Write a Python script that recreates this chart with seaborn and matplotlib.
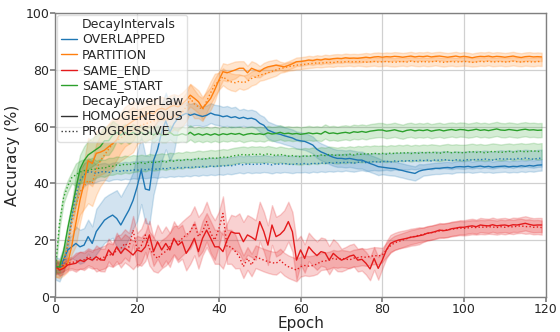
import numpy as np
import pandas as pd
import matplotlib
matplotlib.use("Agg")
import matplotlib.pyplot as plt
import seaborn as sns

epochs = list(range(120))
intervals = ["OVERLAPPED", "PARTITION", "SAME_END", "SAME_START"]
powerlaws = ["HOMOGENEOUS", "PROGRESSIVE"]

ov_h = [10, 9.4, 13, 16.5, 17.6, 18.8, 17.6, 18.2, 21.2, 18.8,
        23, 25, 27, 28, 28.8, 27.6, 25.3, 28, 30.6, 34,
        38.8, 44.7, 38, 37.6, 48, 52, 58, 62, 58, 61,
        63, 64, 64.7, 64, 64.5, 64, 63.6, 64, 64.8, 64.2,
        64, 63.5, 63.8, 63.2, 63.5, 62.9, 63.3, 62.8, 63, 62.5,
        61.2, 60.5, 58.8, 58.2, 57.6, 57.3, 56.8, 56.4, 56, 55.3,
        55, 54.8, 54.2, 53.5, 52, 51.1, 50.5, 49.8, 49.2, 48.8,
        48.8, 48.6, 48.8, 48.5, 48.2, 48.2, 47.6, 47, 46.5, 45.9,
        45.7, 45.5, 45.3, 45.2, 44.8, 44.5, 44.1, 43.8, 43.5, 44.3,
        44.7, 44.9, 45.1, 45.3, 45.3, 45.5, 45.6, 45.4, 45.8, 45.9,
        45.8, 46, 45.7, 45.9, 46.1, 45.8, 46, 45.7, 45.9, 46,
        46.1, 45.8, 46, 45.9, 46.2, 46, 46.3, 46.1, 46.4, 46.5]
ov_p = [10, 10, 11, 18, 28, 36, 41, 43, 44, 44,
        43.5, 44, 44.2, 43.8, 44.3, 44.5, 44.2, 44.6, 44.4, 44.8,
        44.6, 45, 44.8, 45, 45.2, 44.9, 45.3, 45.1, 45.5, 45.3,
        45.6, 45.4, 45.7, 45.5, 45.9, 45.6, 46, 45.8, 46.1, 45.9,
        46.2, 46, 46.4, 46.2, 46.5, 46.8, 46.5, 46.9, 46.6, 46.8,
        46.7, 47, 46.8, 46.5, 46.9, 46.7, 47, 46.8, 46.6, 46.9,
        46.8, 47, 46.7, 47.1, 46.9, 47.2, 47, 47.3, 47.1, 47.4,
        47.2, 47.5, 47.3, 47.1, 47.4, 47.6, 47.3, 47.5, 47.7, 47.5,
        47.6, 47.8, 47.5, 47.9, 47.7, 48, 47.8, 48.1, 47.9, 48.2,
        48, 48.2, 47.9, 48.3, 48.1, 48.4, 48.2, 48, 48.3, 48.2,
        48.1, 48.4, 48.2, 48.5, 48.3, 48.6, 48.4, 48.2, 48.5, 48.7,
        48.5, 48.7, 48.4, 48.8, 48.6, 48.9, 48.7, 48.5, 48.8, 48.9]
pa_h = [10, 9.5, 10.5, 11.8, 18, 26, 34, 40, 48, 47,
        50.6, 51, 51.7, 52.9, 54, 55.3, 58, 60, 61, 62,
        63, 63.5, 64, 65, 64.5, 66, 66.5, 66, 67, 67.5,
        67, 68, 69.4, 71.1, 70, 68.8, 66.5, 68.2, 70, 73,
        76.4, 79.4, 79, 79.5, 80, 80.6, 80.6, 79, 80.6, 80,
        79.4, 80.5, 81.1, 81.4, 81.7, 81.4, 81.1, 81.6, 82.2, 82.9,
        83, 83.2, 83.5, 83.3, 83.7, 83.5, 83.9, 83.7, 84, 84.1,
        84, 84.3, 84.1, 84.2, 84.1, 84.3, 84.5, 84.3, 84.6, 84.7,
        84.5, 84.7, 84.6, 84.8, 84.7, 84.5, 84.7, 84.9, 84.6, 84.8,
        84.7, 84.9, 84.6, 84.8, 84.9, 84.7, 84.5, 84.7, 84.9, 84.6,
        84.8, 84.6, 84.3, 84.6, 84.8, 84.7, 84.9, 84.6, 84.8, 84.7,
        84.5, 84.7, 84.9, 84.6, 84.4, 84.7, 84.8, 84.6, 84.7, 84.6]
pa_p = [10, 10, 12, 18, 26, 32, 37, 39, 41, 40,
        45, 48, 50, 52, 54, 55, 56, 57, 58, 59,
        60, 60.5, 61, 61.5, 62, 62.5, 63, 62.5, 63, 64,
        63.5, 65, 67, 70, 68, 67, 66, 69, 72, 74.7,
        76, 77.6, 76.5, 75.8, 75.5, 76, 75.5, 76, 77, 77.5,
        78.2, 78.5, 79, 79.5, 80, 80.5, 80.8, 81.2, 81.4, 81.7,
        81.8, 82, 82.2, 82.3, 82.5, 82.4, 82.6, 82.7, 82.6, 82.9,
        82.8, 82.9, 83, 82.8, 83, 82.9, 82.7, 82.9, 83, 82.8,
        82.9, 83, 82.8, 82.7, 82.9, 83, 82.8, 83.1, 82.9, 82.8,
        83, 82.8, 82.9, 83.1, 82.9, 82.7, 82.9, 83, 82.8, 82.9,
        83, 82.9, 82.7, 82.8, 83, 82.9, 83.1, 82.8, 82.9, 83,
        82.8, 82.9, 83.1, 82.9, 82.8, 83, 82.9, 82.8, 83, 82.9]
se_h = [11, 9.4, 10, 11.2, 11.5, 11.8, 12.9, 12.4, 13.5, 12.9,
        14.1, 13, 12.9, 16.5, 14.7, 17.6, 15.3, 17.1, 16, 14.7,
        16.5, 15.9, 17.6, 21.8, 15.9, 19.4, 16.5, 18.8, 16.5, 20.6,
        18.2, 19.4, 15.3, 17.6, 20.6, 15.9, 20.6, 23.5, 20.6, 17.6,
        17.6, 15.9, 20, 22.9, 22.4, 22.4, 19.4, 21.8, 21, 20,
        26.5, 23, 18.2, 25.3, 21.2, 22, 23.5, 26.5, 22.9, 12.9,
        16.5, 13.5, 17.6, 15.9, 14.5, 15.9, 15.5, 12.9, 15.3, 14,
        12.9, 13.5, 14.3, 14.7, 12.9, 13.2, 11.8, 9.8, 13.5, 10,
        12.9, 16.5, 18.8, 19.5, 20, 20.3, 20.6, 21, 21.2, 21.5,
        21.8, 22.4, 22.6, 23, 23.5, 23.3, 23.5, 24, 24.2, 24.5,
        24.5, 24.8, 25, 24.7, 25.3, 25.1, 25, 25.4, 25, 25.2,
        25.3, 25, 25.4, 25.3, 25.6, 25.9, 25.5, 25.2, 25.3, 25.3]
se_p = [10, 10.5, 11, 11.8, 12, 12.5, 12.8, 13, 14.1, 13.5,
        12.9, 13.5, 14, 15, 14.5, 16.5, 17, 18.8, 17.5, 23.5,
        16.5, 18, 21.8, 17, 15, 13.5, 15, 16, 17.6, 20,
        19, 20.5, 21.8, 23, 25.9, 21.2, 23, 26.5, 22.4, 20,
        24, 29.4, 17.6, 17.6, 16, 14.1, 10.6, 13.5, 11.2, 14.1,
        13.5, 12.9, 12.4, 12, 11.8, 12.9, 11.5, 10.6, 10, 9.4,
        10.6, 11, 10.8, 11, 11.5, 12.4, 12.6, 12.9, 13.5, 13.2,
        13.5, 13.3, 13, 13.6, 13.8, 14.1, 13.9, 14.2, 14.5, 14.4,
        14.7, 16.5, 18, 19, 19.5, 20, 20.5, 21, 21.3, 21.7,
        22, 22.3, 22.6, 22.9, 23.2, 23.4, 23.6, 23.8, 24, 24.2,
        24.1, 24.3, 24.5, 24.4, 24.6, 24.5, 24.7, 24.6, 24.4, 24.7,
        24.5, 24.8, 24.6, 24.9, 25, 24.7, 24.8, 24.5, 24.6, 24.4]
ss_h = [10.6, 10.5, 16, 24, 31, 38, 45, 48, 50, 51,
        52, 53, 55, 55, 57, 58, 57, 58, 57, 58,
        57, 58, 57, 58, 57, 58, 57, 57, 58, 57,
        57, 57.5, 57, 58, 57, 57.5, 57, 57.5, 57, 57.5,
        57, 57.5, 57.2, 57.6, 57.3, 57.6, 57, 57.4, 57.6, 57.3,
        57.5, 57.2, 57.8, 57.4, 57.6, 58, 57.5, 57.7, 57.4, 57.6,
        57.3, 57.5, 57.8, 57.5, 57.7, 57.4, 58.3, 57.6, 57.8, 57.5,
        57.8, 58, 57.7, 58.2, 58, 58.3, 58, 58.4, 58.6, 58.8,
        58.8, 58.4, 58.6, 58.9, 58.5, 58.2, 58.7, 58.9, 58.5, 58.8,
        58.6, 58.9, 58.4, 58.7, 58.9, 58.5, 58.8, 59, 58.7, 59,
        58.9, 58.6, 58.8, 59.1, 58.7, 58.9, 58.6, 58.9, 59.2, 58.8,
        58.7, 59, 58.8, 58.6, 58.9, 59.1, 58.8, 58.9, 58.7, 58.8]
ss_p = [10, 26, 35, 39, 42, 43, 44, 44.5, 44.5, 45,
        45, 45.5, 45.3, 46, 46, 46.5, 46.3, 46.8, 46.5, 47,
        47, 47.3, 47, 47.6, 47.3, 47.5, 47.8, 47.5, 48, 47.8,
        48.2, 48, 48.5, 48.2, 48.4, 48.8, 48.5, 48.7, 49, 48.8,
        49, 49.3, 49.1, 49.5, 49.8, 50, 50.2, 49.9, 50.3, 50.1,
        50.3, 50, 50.4, 50.1, 49.8, 50.2, 49.9, 49.6, 49.8, 49.5,
        49.4, 49.7, 49.5, 49.9, 49.6, 50, 49.8, 50.2, 50, 49.8,
        50.1, 49.9, 50.3, 50, 50.4, 50.2, 50.5, 50.3, 50.6, 50.4,
        50.6, 50.3, 50.7, 50.5, 50.8, 50.6, 50.9, 50.5, 50.8, 50.6,
        50.9, 50.7, 51, 50.8, 50.6, 50.9, 51.1, 50.8, 51, 50.8,
        50.8, 51, 51.2, 50.9, 51.1, 50.8, 51, 51.3, 51.1, 50.9,
        51.1, 51.3, 51, 51.2, 51.4, 51.1, 51.3, 51.5, 51.2, 51.4]

# band half-widths, one value per 5-epoch block
ov_h_band = [4, 6, 8, 10, 12, 10, 4, 3.5, 3.5, 3, 3, 3, 3, 3, 3, 3, 2.5, 2.5, 2, 2, 2, 2, 2, 2]
ov_p_band = [2, 4, 3, 3, 3, 3, 3, 3, 3, 3, 3, 3, 3, 3, 3, 3, 3, 3, 3, 3, 3, 3, 3, 3]
pa_h_band = [3, 8, 8, 7, 5, 4, 4, 4, 3, 2.5, 2, 1.5, 1.5, 1.5, 1.5, 1.5, 1.5, 1.5, 1.5, 1.5, 1.5, 1.5, 1.5, 1.5]
pa_p_band = [3, 8, 9, 8, 6, 5, 5, 4, 3, 2.5, 2, 1.5, 1.5, 1.5, 1.5, 1.5, 1.5, 1.5, 1.5, 1.5, 1.5, 1.5, 1.5, 1.5]
se_h_band = [2, 3, 4, 5, 5, 6, 6, 6, 6, 7, 7, 7, 5, 5, 4, 4, 3, 3, 2.5, 2.5, 2.5, 2.5, 2.5, 2.5]
se_p_band = [2, 3, 4, 5, 6, 5, 6, 7, 6, 4, 4, 4, 3.5, 3, 3, 3, 2.5, 2.5, 2.5, 2.5, 2.5, 2.5, 2.5, 2.5]
ss_h_band = [2, 5, 5, 3, 2.5, 2.5, 2.5, 2.5, 2.5, 2.5, 2.5, 2.5, 2.5, 2.5, 2.5, 2.5, 2.5, 2.5, 2.5, 2.5, 2.5, 2.5, 2.5, 2.5]
ss_p_band = [2, 4, 3, 3, 2.8, 2.8, 2.8, 2.8, 2.8, 2.8, 2.8, 2.8, 2.8, 2.8, 2.8, 2.8, 2.8, 2.8, 2.8, 2.8, 2.8, 2.8, 2.8, 2.8]

series = {
    ("OVERLAPPED", "HOMOGENEOUS"): (ov_h, ov_h_band),
    ("OVERLAPPED", "PROGRESSIVE"): (ov_p, ov_p_band),
    ("PARTITION", "HOMOGENEOUS"): (pa_h, pa_h_band),
    ("PARTITION", "PROGRESSIVE"): (pa_p, pa_p_band),
    ("SAME_END", "HOMOGENEOUS"): (se_h, se_h_band),
    ("SAME_END", "PROGRESSIVE"): (se_p, se_p_band),
    ("SAME_START", "HOMOGENEOUS"): (ss_h, ss_h_band),
    ("SAME_START", "PROGRESSIVE"): (ss_p, ss_p_band),
}

rows = []
for (iv, pl), (vals, band) in series.items():
    hw = np.repeat(band, 5)
    for e, v, h in zip(epochs, vals, hw):
        for s in (-1, 0, 1):
            rows.append({"Epoch": e, "Accuracy": v + s * h,
                         "DecayIntervals": iv, "DecayPowerLaw": pl})
df = pd.DataFrame(rows)

sns.set_theme(style="whitegrid")
plt.rcParams["font.family"] = ["DejaVu Sans"]
plt.rcParams.update({
    "axes.edgecolor": "#808080",
    "axes.linewidth": 1.0,
    "grid.color": "#d0d0d0",
    "grid.linewidth": 0.9,
    "xtick.bottom": True,
    "ytick.left": True,
    "xtick.major.size": 3.5,
    "ytick.major.size": 3.5,
    "xtick.color": "#808080",
    "ytick.color": "#808080",
    "xtick.labelcolor": "#262626",
    "ytick.labelcolor": "#262626",
})

palette = {"OVERLAPPED": "#1f77b4", "PARTITION": "#ff7f0e",
           "SAME_END": "#e41a1c", "SAME_START": "#2ca02c"}

fig, ax = plt.subplots(figsize=(5.6, 3.32), dpi=100)
fig.subplots_adjust(left=0.099, right=0.9745, top=0.960, bottom=0.1063)

sns.lineplot(data=df, x="Epoch", y="Accuracy", hue="DecayIntervals",
             style="DecayPowerLaw", hue_order=intervals, style_order=powerlaws,
             palette=palette, dashes={"HOMOGENEOUS": "", "PROGRESSIVE": (1, 1.65)},
             errorbar=("pi", 100), linewidth=1.0, ax=ax)

ax.set_xlim(0, 120)
ax.set_ylim(0, 100)
ax.set_xticks([0, 20, 40, 60, 80, 100, 120])
ax.set_yticks([0, 20, 40, 60, 80, 100])
ax.tick_params(labelsize=9, pad=1)
ax.set_xlabel("Epoch", fontsize=11, labelpad=0)
ax.set_ylabel("Accuracy (%)", fontsize=11, labelpad=4)

sns.move_legend(ax, "upper left", bbox_to_anchor=(0.004, 0.995), fontsize=9,
                labelspacing=0.19, framealpha=0.6, borderaxespad=0,
                handlelength=1.3, handletextpad=0.4, borderpad=0.25)

fig.savefig("out.png", dpi=100)
